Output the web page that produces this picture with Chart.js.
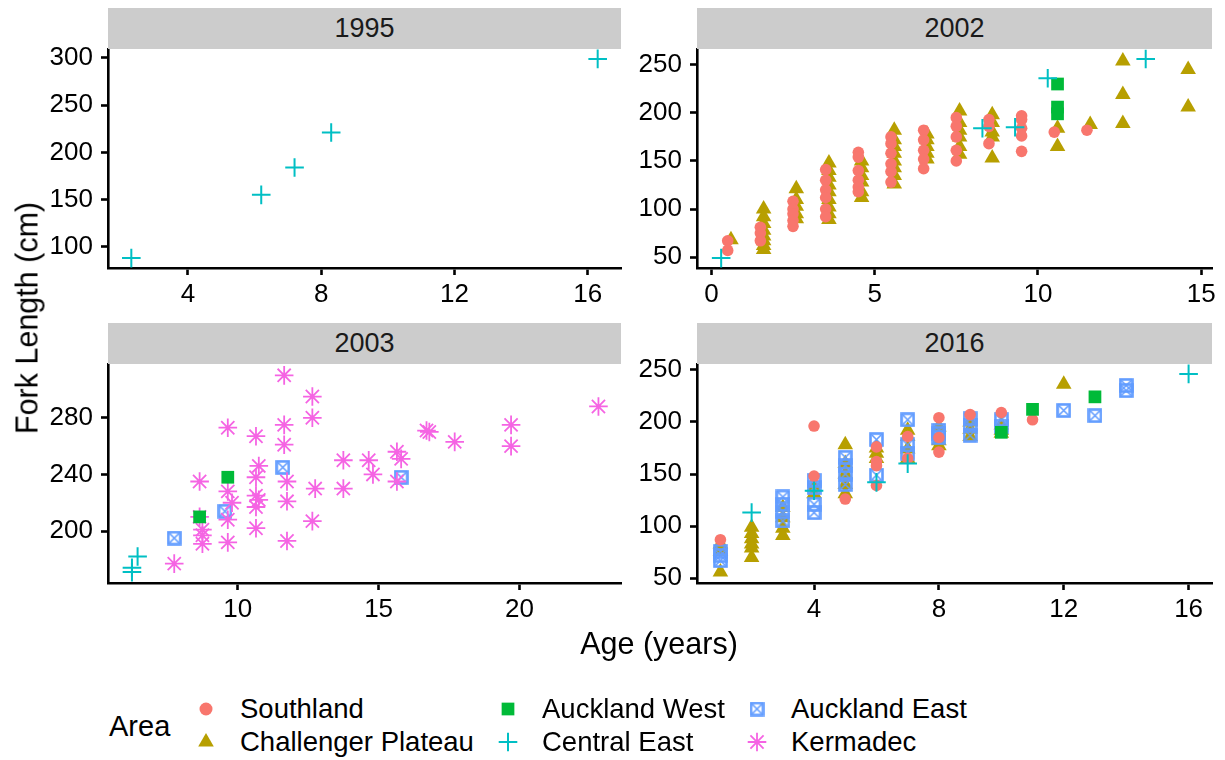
<!DOCTYPE html>
<html>
<head>
<meta charset="utf-8">
<script src="https://cdn.jsdelivr.net/npm/chart.js@4.4.0/dist/chart.umd.min.js"></script>
<style>
  body { margin: 0; background: #fff; width: 1225px; height: 760px; position: relative; overflow: hidden;
         font-family: "Liberation Sans", Arial, sans-serif; color: #000; }
  canvas.panel { position: absolute; }
  .strip { position: absolute; background: #cccccc; color: #1a1a1a; font-size: 27px; text-align: center;
           height: 41px; line-height: 41px; }
  .lbl { position: absolute; white-space: nowrap; transform: translate(0, -50%); }
  .key { position: absolute; }
</style>
</head>
<body>
<div id="root"></div>
<script>
// ---- data ----
const areas = ["Southland", "Challenger Plateau", "Auckland West", "Central East", "Auckland East", "Kermadec"];
const areaColors = ["#F8766D", "#B79F00", "#00BA38", "#00BFC4", "#619CFF", "#F564E3"];
const years = ["1995", "2002", "2003", "2016"];

// 1995
const age1995CentralEast = [2.3, 6.2, 7.2, 8.3, 16.3];
const len1995CentralEast = [88, 155, 184, 221, 299];

// 2002
const age2002Southland = [0.5, 0.5, 1.5, 1.5, 1.5, 2.5, 2.5, 2.5, 2.5, 2.5, 3.5, 3.5, 3.5, 3.5, 3.5, 3.5,
  4.5, 4.5, 4.5, 4.5, 4.5, 4.5, 5.5, 5.5, 5.5, 5.5, 5.5, 5.5, 6.5, 6.5, 6.5, 6.5, 6.5,
  7.5, 7.5, 7.5, 7.5, 7.5, 8.5, 8.5, 8.5, 9.5, 9.5, 9.5, 9.5, 9.5, 10.5, 11.5];
const len2002Southland = [67, 57, 81, 75, 67, 108, 100, 95, 88, 82, 141, 130, 120, 112, 100, 92,
  159, 154, 140, 130, 123, 118, 175, 168, 158, 147, 139, 128, 182, 172, 161, 152, 142,
  195, 186, 175, 161, 150, 193, 186, 168, 197, 193, 184, 176, 160, 180, 182];
const age2002Challenger = [0.6, 1.6, 1.6, 1.6, 1.6, 1.6, 1.6, 1.6, 1.6, 2.6, 2.6, 2.6, 2.6, 2.6,
  3.6, 3.6, 3.6, 3.6, 3.6, 3.6, 3.6, 3.6, 3.6, 4.6, 4.6, 4.6, 4.6, 4.6, 4.6,
  5.6, 5.6, 5.6, 5.6, 5.6, 5.6, 5.6, 5.6, 6.6, 6.6, 6.6, 6.6, 6.6, 7.6, 7.6, 7.6, 7.6, 7.6, 7.6,
  8.6, 8.6, 8.6, 8.6, 8.6, 10.6, 10.6, 11.6, 12.6, 12.6, 12.6, 14.6, 14.6];
const len2002Challenger = [68, 100, 92, 85, 78, 72, 67, 62, 58, 121, 110, 103, 95, 90,
  148, 140, 133, 125, 118, 110, 102, 95, 89, 150, 143, 135, 128, 118, 112,
  182, 172, 165, 158, 150, 143, 135, 126, 178, 172, 165, 158, 152, 202, 190, 182, 175, 165, 157,
  198, 190, 180, 175, 153, 184, 165, 188, 254, 219, 189, 245, 206];
const age2002AucklandWest = [10.6, 10.6, 10.6];
const len2002AucklandWest = [230, 206, 199];
const age2002CentralEast = [0.3, 8.3, 9.3, 10.3, 13.3];
const len2002CentralEast = [49, 184, 185, 236, 256];

// 2003
const age2003AucklandWest = [8.65, 9.65];
const len2003AucklandWest = [210, 238];
const age2003CentralEast = [6.45, 6.25, 6.25];
const len2003CentralEast = [182, 174, 171];
const age2003AucklandEast = [7.75, 9.55, 11.6, 15.8];
const len2003AucklandEast = [195, 214, 245, 238];
const age2003Kermadec = [7.75, 8.65, 8.65, 8.75, 8.75, 8.75, 9.65, 9.65, 9.8, 9.65, 9.65,
  10.65, 10.75, 10.65, 10.65, 10.75, 10.65, 10.65, 11.65, 11.65, 11.65, 11.75, 11.75, 11.75,
  12.65, 12.65, 12.75, 12.65, 13.75, 13.75, 14.65, 14.8, 15.65, 15.8, 15.65, 16.7, 16.8, 17.7,
  19.7, 19.7, 22.8];
const len2003Kermadec = [177, 235, 210, 201, 197, 191, 273, 228, 220, 208, 192,
  267, 246, 238, 225, 222, 217, 202, 310, 275, 261, 235, 221, 193,
  295, 280, 230, 207, 250, 230, 250, 240, 256, 251, 235, 271, 270, 263,
  275, 260, 288];

// 2016
const age2016Southland = [1, 4, 4, 5, 6, 6, 6, 6, 7, 7, 8, 8, 8, 9, 10, 11];
const len2016Southland = [87, 196, 148, 126, 176, 162, 158, 139, 186, 165, 204, 171, 185, 207, 209, 202];
const age2016Challenger = [1, 1, 1, 2, 2, 2, 2, 2, 2, 3, 3, 3, 3, 4, 4, 5, 5, 5, 5, 5,
  6, 6, 6, 7, 7, 7, 7, 8, 8, 8, 9, 9, 9, 10, 10, 10, 12];
const len2016Challenger = [83, 76, 56, 99, 93, 88, 83, 79, 70, 118, 108, 98, 91, 137, 131, 178, 160, 150, 140, 131,
  175, 170, 165, 192, 186, 174, 165, 195, 182, 177, 200, 193, 186, 197, 192, 189, 236];
const age2016AucklandWest = [10, 11, 13];
const len2016AucklandWest = [190, 212, 224];
const age2016CentralEast = [2, 4, 6, 7, 16];
const len2016CentralEast = [113, 134, 142, 160, 246];
const age2016AucklandEast = [1, 1, 1, 3, 3, 3, 3, 4, 4, 4, 4, 5, 5, 5, 5, 6, 6, 7, 7, 7,
  8, 8, 8, 9, 9, 9, 10, 10, 12, 13, 14, 14];
const len2016AucklandEast = [76, 72, 67, 128, 121, 114, 105, 144, 137, 121, 113, 166, 158, 150, 140, 183, 149, 202, 178, 170,
  192, 189, 185, 203, 197, 187, 202, 196, 211, 206, 235, 230];

// tick labels
const xTicks1995 = [4, 8, 12, 16];
const yTicks1995 = [100, 150, 200, 250, 300];
const xTicks2002 = [0, 5, 10, 15];
const yTicks2002 = [50, 100, 150, 200, 250];
const xTicks2003 = [10, 15, 20];
const yTicks2003 = [200, 240, 280];
const xTicks2016 = [4, 8, 12, 16];
const yTicks2016 = [50, 100, 150, 200, 250];

// ---- drawing ----
const FONT = '"Liberation Sans", Arial, sans-serif';
const root = document.getElementById('root');

function boxedX(color, size) {
  const c = document.createElement('canvas');
  c.width = size; c.height = size;
  const g = c.getContext('2d');
  g.strokeStyle = color;
  g.lineWidth = 2.6;
  g.strokeRect(1.5, 1.5, size - 3, size - 3);
  g.lineWidth = 1.6;
  g.beginPath();
  g.moveTo(3, 3); g.lineTo(size - 3, size - 3);
  g.moveTo(size - 3, 3); g.lineTo(3, size - 3);
  g.stroke();
  return c;
}

// point look for each area (ggplot shapes 16, 17, 15, 3, 7, 8)
const areaStyle = [
  { pointStyle: 'circle', radius: 5.8, borderWidth: 0 },
  { pointStyle: 'triangle', radius: 9, borderWidth: 0 },
  { pointStyle: 'rect', radius: 9, borderWidth: 0 },
  { pointStyle: 'cross', radius: 9.3, borderWidth: 2 },
  { pointStyle: boxedX(areaColors[4], 15), radius: 7, borderWidth: 0 },
  { pointStyle: 'star', radius: 9.3, borderWidth: 1.8 }
];

function series(area, ages, lens) {
  const i = areas.indexOf(area);
  const st = areaStyle[i];
  return {
    label: area,
    data: ages.map((a, k) => ({ x: a, y: lens[k] })),
    pointStyle: st.pointStyle,
    pointRadius: st.radius,
    pointHoverRadius: st.radius,
    pointBorderWidth: st.borderWidth,
    backgroundColor: areaColors[i],
    borderColor: areaColors[i],
    showLine: false,
    clip: false
  };
}

const Y_AXIS_W = 74, X_AXIS_H = 44, PAD_T = 28, PAD_R = 18;

function axis(min, max, ticks, isY) {
  return {
    type: 'linear',
    min: min, max: max,
    afterBuildTicks: s => { s.ticks = ticks.map(v => ({ value: v })); },
    afterFit: s => { if (isY) s.width = Y_AXIS_W; else s.height = X_AXIS_H; },
    border: { display: true, color: '#000', width: 2.6 },
    grid: { display: true, drawOnChartArea: false, drawTicks: true, tickLength: 7, tickWidth: 2.6, tickColor: '#000' },
    ticks: { color: '#000', font: { family: FONT, size: 26 }, padding: isY ? 8 : 4, maxRotation: 0, autoSkip: false }
  };
}

function panel(year, box, xr, yr, xTicks, yTicks, datasets) {
  const cv = document.createElement('canvas');
  cv.className = 'panel';
  const w = Y_AXIS_W + box.w + PAD_R, h = PAD_T + box.h + X_AXIS_H;
  cv.width = w; cv.height = h;
  cv.style.left = (box.left - Y_AXIS_W) + 'px';
  cv.style.top = (box.top - PAD_T) + 'px';
  root.appendChild(cv);

  const strip = document.createElement('div');
  strip.className = 'strip';
  strip.textContent = year;
  strip.style.left = box.left + 'px';
  strip.style.top = (box.top - 41) + 'px';
  strip.style.width = box.w + 'px';
  root.appendChild(strip);

  new Chart(cv.getContext('2d'), {
    type: 'scatter',
    data: { datasets: datasets },
    options: {
      responsive: false,
      animation: false,
      devicePixelRatio: 1,
      layout: { padding: { left: 0, top: PAD_T, right: PAD_R, bottom: 0 } },
      plugins: { legend: { display: false }, tooltip: { enabled: false } },
      scales: {
        x: axis(xr[0], xr[1], xTicks, false),
        y: axis(yr[0], yr[1], yTicks, true)
      }
    }
  });
}

panel(years[0], { left: 108, top: 49, w: 513, h: 219 }, [1.6, 17.0], [77.5, 309.5], xTicks1995, yTicks1995, [
  series("Central East", age1995CentralEast, len1995CentralEast)
]);

panel(years[1], { left: 697, top: 49, w: 515, h: 219 }, [-0.44, 15.33], [38.7, 266.4], xTicks2002, yTicks2002, [
  series("Central East", age2002CentralEast, len2002CentralEast),
  series("Auckland West", age2002AucklandWest, len2002AucklandWest),
  series("Southland", age2002Southland, len2002Southland),
  series("Challenger Plateau", age2002Challenger, len2002Challenger)
]);

panel(years[2], { left: 108, top: 364, w: 513, h: 219 }, [5.4, 23.6], [163.3, 318], xTicks2003, yTicks2003, [
  series("Auckland West", age2003AucklandWest, len2003AucklandWest),
  series("Kermadec", age2003Kermadec, len2003Kermadec),
  series("Auckland East", age2003AucklandEast, len2003AucklandEast),
  series("Central East", age2003CentralEast, len2003CentralEast)
]);

panel(years[3], { left: 697, top: 364, w: 515, h: 219 }, [0.25, 16.75], [45.5, 255.5], xTicks2016, yTicks2016, [
  series("Central East", age2016CentralEast, len2016CentralEast),
  series("Auckland West", age2016AucklandWest, len2016AucklandWest),
  series("Southland", age2016Southland, len2016Southland),
  series("Auckland East", age2016AucklandEast, len2016AucklandEast),
  series("Challenger Plateau", age2016Challenger, len2016Challenger)
]);

// axis titles
function text(str, x, y, size, extra) {
  const d = document.createElement('div');
  d.className = 'lbl';
  d.textContent = str;
  d.style.left = x + 'px';
  d.style.top = y + 'px';
  d.style.fontSize = size + 'px';
  if (extra) Object.assign(d.style, extra);
  root.appendChild(d);
  return d;
}
text("Age (years)", 659, 643, 30.5, { transform: 'translate(-50%, -50%)' });
text("Fork Length (cm)", 27, 318, 30.5, { transform: 'translate(-50%, -50%) rotate(-90deg)' });

// legend
text("Area", 109, 726, 29);
const legendCols = [206, 508, 757];
const legendRows = [709, 742];
areas.forEach((a, i) => {
  const col = Math.floor(i / 2), row = i % 2;
  const cx = legendCols[col], cy = legendRows[row];
  const kc = document.createElement('canvas');
  kc.className = 'key';
  kc.width = 24; kc.height = 24;
  kc.style.left = (cx - 12) + 'px';
  kc.style.top = (cy - 12) + 'px';
  root.appendChild(kc);
  const g = kc.getContext('2d');
  const st = areaStyle[i];
  g.fillStyle = areaColors[i];
  g.strokeStyle = areaColors[i];
  g.lineWidth = st.borderWidth;
  Chart.helpers.drawPoint(g, { pointStyle: st.pointStyle, radius: i === 0 ? 6.5 : st.radius, borderWidth: st.borderWidth, rotation: 0 }, 12, 12);
  text(a, cx + 34, cy, 27.5);
});
</script>
</body>
</html>
